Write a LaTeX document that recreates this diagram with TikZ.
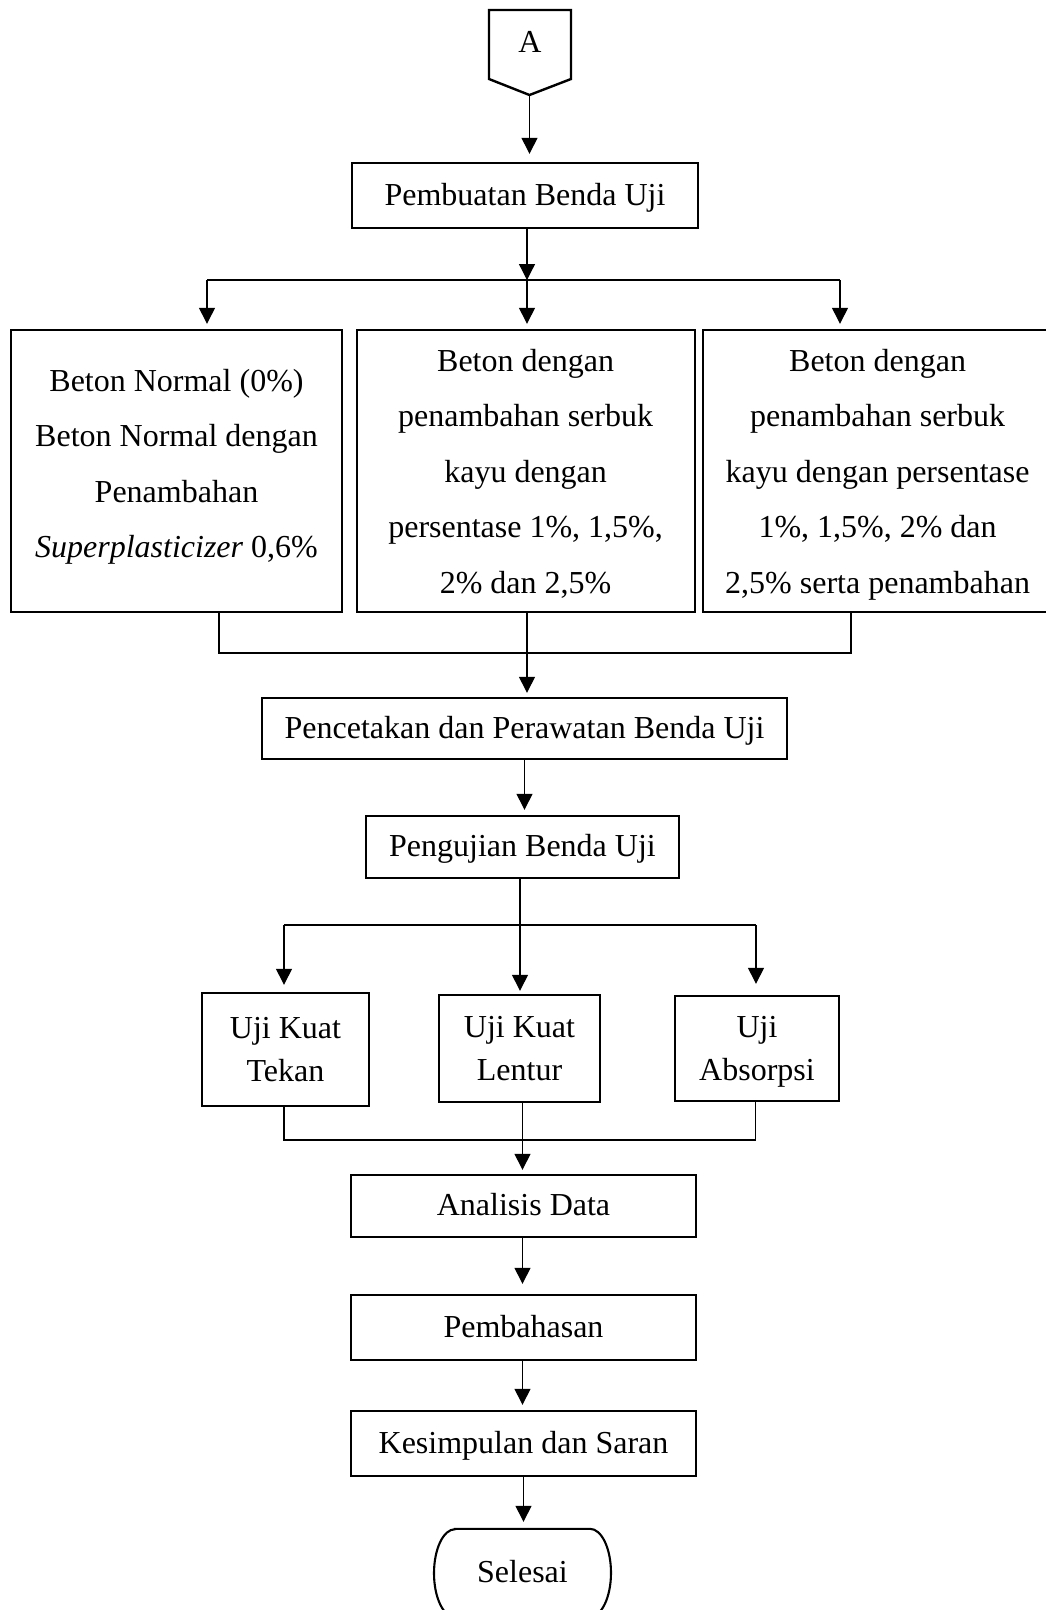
\documentclass[tikz,border=0pt]{standalone}
\usepackage{fontspec}
\setmainfont{Liberation Serif}
\usetikzlibrary{arrows.meta}
\begin{document}
\begin{tikzpicture}[x=1pt,y=-1pt,
  every node/.style={font=\fontsize{32}{55.5}\selectfont, inner sep=0pt},
  box/.style={draw, line width=2.4pt, text height=22pt, text depth=3pt},
  ubox/.style={draw, line width=2.4pt, align=center, font=\fontsize{32}{43}\selectfont},
  txt/.style={align=center, anchor=north},
  con/.style={line width=1.3pt},
  arr/.style={con, -{Triangle[width=16pt,length=16pt]}},
  outline/.style={line width=2.4pt}]
\useasboundingbox (0,0) rectangle (1046,1610);
\fill[white] (0,0) rectangle (1046,1610);
\clip (0,0) rectangle (1046,1610);

% connector "A"
\coordinate (Atip) at (529.5,95);
\draw[outline] (489,10) -- (571,10) -- (571,79) -- (Atip) -- (489,79) -- cycle;
\node (Atxt) at (530,41.5) {A};

% boxes
\node[box, minimum width=346pt, minimum height=65pt] (B0) at (525,195.5) {Pembuatan Benda Uji};
\node[draw, line width=2.4pt, minimum width=331pt, minimum height=282pt] (B1) at (176.5,471) {};
\node[draw, line width=2.4pt, minimum width=338pt, minimum height=282pt] (B2) at (526,471) {};
\node[draw, line width=2.4pt, minimum width=349pt, minimum height=282pt] (B3) at (877.5,471) {};
\node[txt] (T1) at (176.5,367) {\rule{0pt}{24pt}Beton Normal (0\%)\\Beton Normal dengan\\Penambahan\\\textit{Superplasticizer} 0,6\%};
\node[txt] (T2) at (525.6,347) {\rule{0pt}{24pt}Beton dengan\\penambahan serbuk\\kayu dengan\\persentase 1\%, 1,5\%,\\2\% dan 2,5\%};
\node[txt] (T3) at (877.6,347) {\rule{0pt}{24pt}Beton dengan\\penambahan serbuk\\kayu dengan persentase\\1\%, 1,5\%, 2\% dan\\2,5\% serta penambahan};

\node[box, minimum width=525pt, minimum height=61pt] (B4) at (524.5,728.5) {Pencetakan dan Perawatan Benda Uji};
\node[box, minimum width=313pt, minimum height=62pt] (B5) at (522.5,847) {Pengujian Benda Uji};

\node[ubox, minimum width=167pt, minimum height=113pt] (B6) at (285.5,1049.5) {Uji Kuat\\Tekan};
\node[ubox, minimum width=161pt, minimum height=107pt] (B7) at (519.5,1048.5) {Uji Kuat\\Lentur};
\node[ubox, minimum width=164pt, minimum height=105pt] (B8) at (757,1048.5) {Uji\\\raisebox{0pt}[\height][0pt]{Absorpsi}};

\node[box, minimum width=345pt, minimum height=62pt] (B9) at (523.5,1206) {Analisis Data};
\node[box, minimum width=345pt, minimum height=65pt] (B10) at (523.5,1327.5) {Pembahasan};
\node[box, minimum width=345pt, minimum height=65pt] (B11) at (523.5,1443.5) {Kesimpulan dan Saran};

% terminator
\node[text height=22pt, text depth=3pt, minimum width=177pt, minimum height=88pt] (SEL) at (522.5,1573) {Selesai};
\draw[line width=2.1pt] ([xshift=-67.5pt]SEL.north) -- ([xshift=67.5pt]SEL.north)
  arc[start angle=-90, end angle=90, x radius=21, y radius=44]
  -- ([xshift=-67.5pt]SEL.south)
  arc[start angle=90, end angle=270, x radius=21, y radius=44] -- cycle;

% connectors
\draw[arr, shorten >=8pt] (Atip) -- (Atip |- B0.north);

\coordinate (hL) at (207,280);
\coordinate (hM) at (527,280);
\coordinate (hR) at (840,280);
\draw[arr] (B0.south -| hM) -- (hM);
\draw[con] (hL) -- (hR);
\draw[arr, shorten >=5pt] (hL) -- (hL |- B1.north);
\draw[arr, shorten >=5pt] (hM) -- (hM |- B2.north);
\draw[arr, shorten >=5pt] (hR) -- (hR |- B3.north);

\coordinate (mL) at (219,653);
\coordinate (mM) at (527,653);
\coordinate (mR) at (851,653);
\draw[con] (B1.south -| mL) -- (mL) -- (mR) -- (B3.south -| mR);
\draw[con] (B2.south -| mM) -- (mM);
\draw[arr, shorten >=4pt] (mM) -- (mM |- B4.north);

\draw[arr, shorten >=5pt] (B4.south) -- (B4.south |- B5.north);

\coordinate (kL) at (284,925);
\coordinate (kM) at (520,925);
\coordinate (kR) at (756,925);
\draw[con] (B5.south -| kM) -- (kM);
\draw[con] (kL) -- (kR);
\draw[arr, shorten >=7pt] (kL) -- (kL |- B6.north);
\draw[arr, shorten >=3pt] (kM) -- (kM |- B7.north);
\draw[arr, shorten >=11pt] (kR) -- (kR |- B8.north);

\coordinate (jL) at (284,1140);
\coordinate (jM) at (522.5,1140);
\coordinate (jR) at (755.5,1140);
\draw[con] (B6.south -| jL) -- (jL) -- (jR) -- (B8.south -| jR);
\draw[con] (B7.south -| jM) -- (jM);
\draw[arr, shorten >=4pt] (jM) -- (jM |- B9.north);

\draw[arr, shorten >=10pt] (B9.south -| jM) -- (jM |- B10.north);
\draw[arr, shorten >=5pt] (B10.south -| jM) -- (jM |- B11.north);
\draw[arr, shorten >=7pt] (B11.south) -- (B11.south |- SEL.north);
\end{tikzpicture}
\end{document}
